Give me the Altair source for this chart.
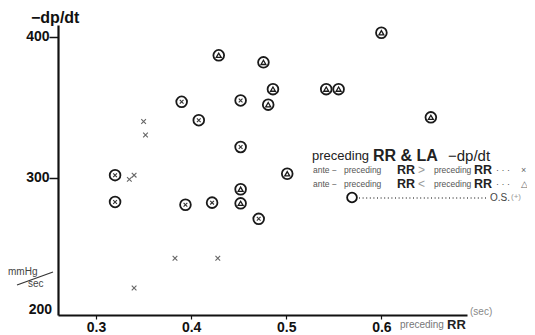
import altair as alt
import pandas as pd

FONT = "Liberation Sans"

# circled points, ante-preceding RR < preceding RR (triangle inside)
tri_rr = [0.429, 0.476, 0.486, 0.481, 0.600, 0.542, 0.555, 0.652, 0.501, 0.452, 0.452]
tri_dp = [387, 382, 363, 352, 403, 363, 363, 343, 303, 292, 282]
# circled points, ante-preceding RR > preceding RR (cross inside)
ocx_rr = [0.390, 0.408, 0.452, 0.452, 0.320, 0.320, 0.394, 0.422, 0.471]
ocx_dp = [354, 341, 355, 322, 302, 283, 281, 282.5, 271]
# plain crosses, ante-preceding RR > preceding RR, O.S.(-)
x_rr = [0.350, 0.352, 0.335, 0.340, 0.383, 0.428, 0.340]
x_dp = [340, 330.5, 299, 302, 243, 243, 222]

x_ticks = [0.3, 0.4, 0.5, 0.6]
y_ticks = [300, 400]

CROSS = "M-1,-1L1,1M-1,1L1,-1"

tri = pd.DataFrame({"rr": tri_rr, "dp": tri_dp})
ocx = pd.DataFrame({"rr": ocx_rr, "dp": ocx_dp})
plain = pd.DataFrame({"rr": x_rr, "dp": x_dp})
circled = pd.concat([tri, ocx], ignore_index=True)

xenc = alt.X("rr:Q",
             scale=alt.Scale(domain=[0.26, 0.69], nice=False, zero=False),
             axis=alt.Axis(values=x_ticks, format=".1f", title=None, grid=False,
                           labelFontWeight="bold", labelFontSize=14, labelFont=FONT,
                           labelColor="#111", tickSize=4, tickWidth=1.2, labelPadding=1,
                           domainWidth=2.2, domainColor="#111", tickColor="#111"))
yenc = alt.Y("dp:Q",
             scale=alt.Scale(domain=[202.8, 408.5], nice=False, zero=False),
             axis=alt.Axis(values=y_ticks, title=None, grid=False,
                           labelFontWeight="bold", labelFontSize=14, labelFont=FONT,
                           labelColor="#111", tickSize=9, tickWidth=1.5, labelPadding=0,
                           domainWidth=2.2, domainColor="#111", tickColor="#111"))

circles = alt.Chart(circled).mark_point(shape="circle", filled=False, size=115,
                                        stroke="#1a1a1a", strokeWidth=1.8, opacity=1
                                        ).encode(x=xenc, y=yenc)
tri_in = alt.Chart(tri).mark_point(shape="triangle-up", filled=False, size=24,
                                   stroke="#1a1a1a", strokeWidth=1.3, opacity=1
                                   ).encode(x="rr:Q", y="dp:Q")
x_in = alt.Chart(ocx).mark_point(shape=CROSS, filled=False, size=14,
                                 stroke="#333", strokeWidth=1.1, opacity=1
                                 ).encode(x="rr:Q", y="dp:Q")
x_plain = alt.Chart(plain).mark_point(shape=CROSS, filled=False, size=22,
                                      stroke="#666", strokeWidth=1.1, opacity=1
                                      ).encode(x="rr:Q", y="dp:Q")

OX, OY = 58, 25  # page position of plot origin


def txt(s, px, py, size, weight="normal", color="#222", align="left"):
    return alt.Chart(pd.DataFrame({"t": [s]})).mark_text(
        x=px - OX, y=py - OY, fontSize=size, fontWeight=weight, color=color,
        align=align, baseline="middle", font=FONT).encode(text="t:N")


def seg(x1, y1, x2, y2, color="#333", width=1.0, dash=None):
    kw = dict(color=color, strokeWidth=width)
    if dash:
        kw["strokeDash"] = dash
    return alt.Chart(pd.DataFrame({"a": [0]})).mark_rule(**kw).encode(
        x=alt.value(x1 - OX), y=alt.value(y1 - OY),
        x2=alt.value(x2 - OX), y2=alt.value(y2 - OY))


def legend_line(py, sym, endmark):
    return [
        txt("ante", 313, py, 8.5, "normal", "#555"),
        txt("\u2212", 332, py, 8.5, "normal", "#555"),
        txt("preceding", 344, py, 8.5, "normal", "#555"),
        txt("RR", 397, py, 12.5, "bold", "#222"),
        txt(sym, 418, py, 12, "normal", "#999"),
        txt("preceding", 434, py, 8.5, "normal", "#555"),
        txt("RR", 474, py, 12.5, "bold", "#222"),
        txt("\u00b7 \u00b7 \u00b7", 496, py, 9, "normal", "#555"),
        txt(endmark, 521, py, 9, "normal", "#666"),
    ]


annotations = [
    txt("\u2212dp/dt", 31, 18, 16, "bold", "#111"),
    txt("200", 52, 310, 14, "bold", "#111", "right"),
    txt("mmHg", 8, 272, 10, "normal", "#444"),
    txt("sec", 28, 284, 10, "normal", "#444"),
    seg(17, 285, 53, 272, "#333", 1.2),
    txt("(sec)", 470, 312, 10, "normal", "#888"),
    txt("preceding", 400, 325, 10, "normal", "#777"),
    txt("RR", 447, 325, 13, "bold", "#222"),
    # legend block
    txt("preceding", 312, 156, 13, "normal", "#222"),
    txt("RR & LA", 373, 156, 16, "bold", "#222"),
    txt("\u2212dp/dt", 448, 156, 15, "normal", "#222"),
    *legend_line(170, ">", "\u00d7"),
    *legend_line(184, "<", "\u25b3"),
    seg(359, 198, 488, 198, "#555", 1.3, [1, 2.6]),
    txt("O.S.", 490, 198, 10, "normal", "#444"),
    txt("(+)", 511, 197, 8, "normal", "#999"),
    alt.Chart(pd.DataFrame({"a": [0]})).mark_point(
        shape="circle", filled=False, size=95, stroke="#111", strokeWidth=1.8, opacity=1
    ).encode(x=alt.value(352 - OX), y=alt.value(197.5 - OY)),
]

chart = alt.layer(circles, tri_in, x_in, x_plain, *annotations).properties(
    width=409, height=290,
    autosize=alt.AutoSizeParams(type="none"),
    padding={"left": 50, "top": 17, "right": 60, "bottom": 20},
    background="white",
).configure_view(stroke=None)

chart.save("out.html", embed_options={"renderer": "svg", "actions": False})
